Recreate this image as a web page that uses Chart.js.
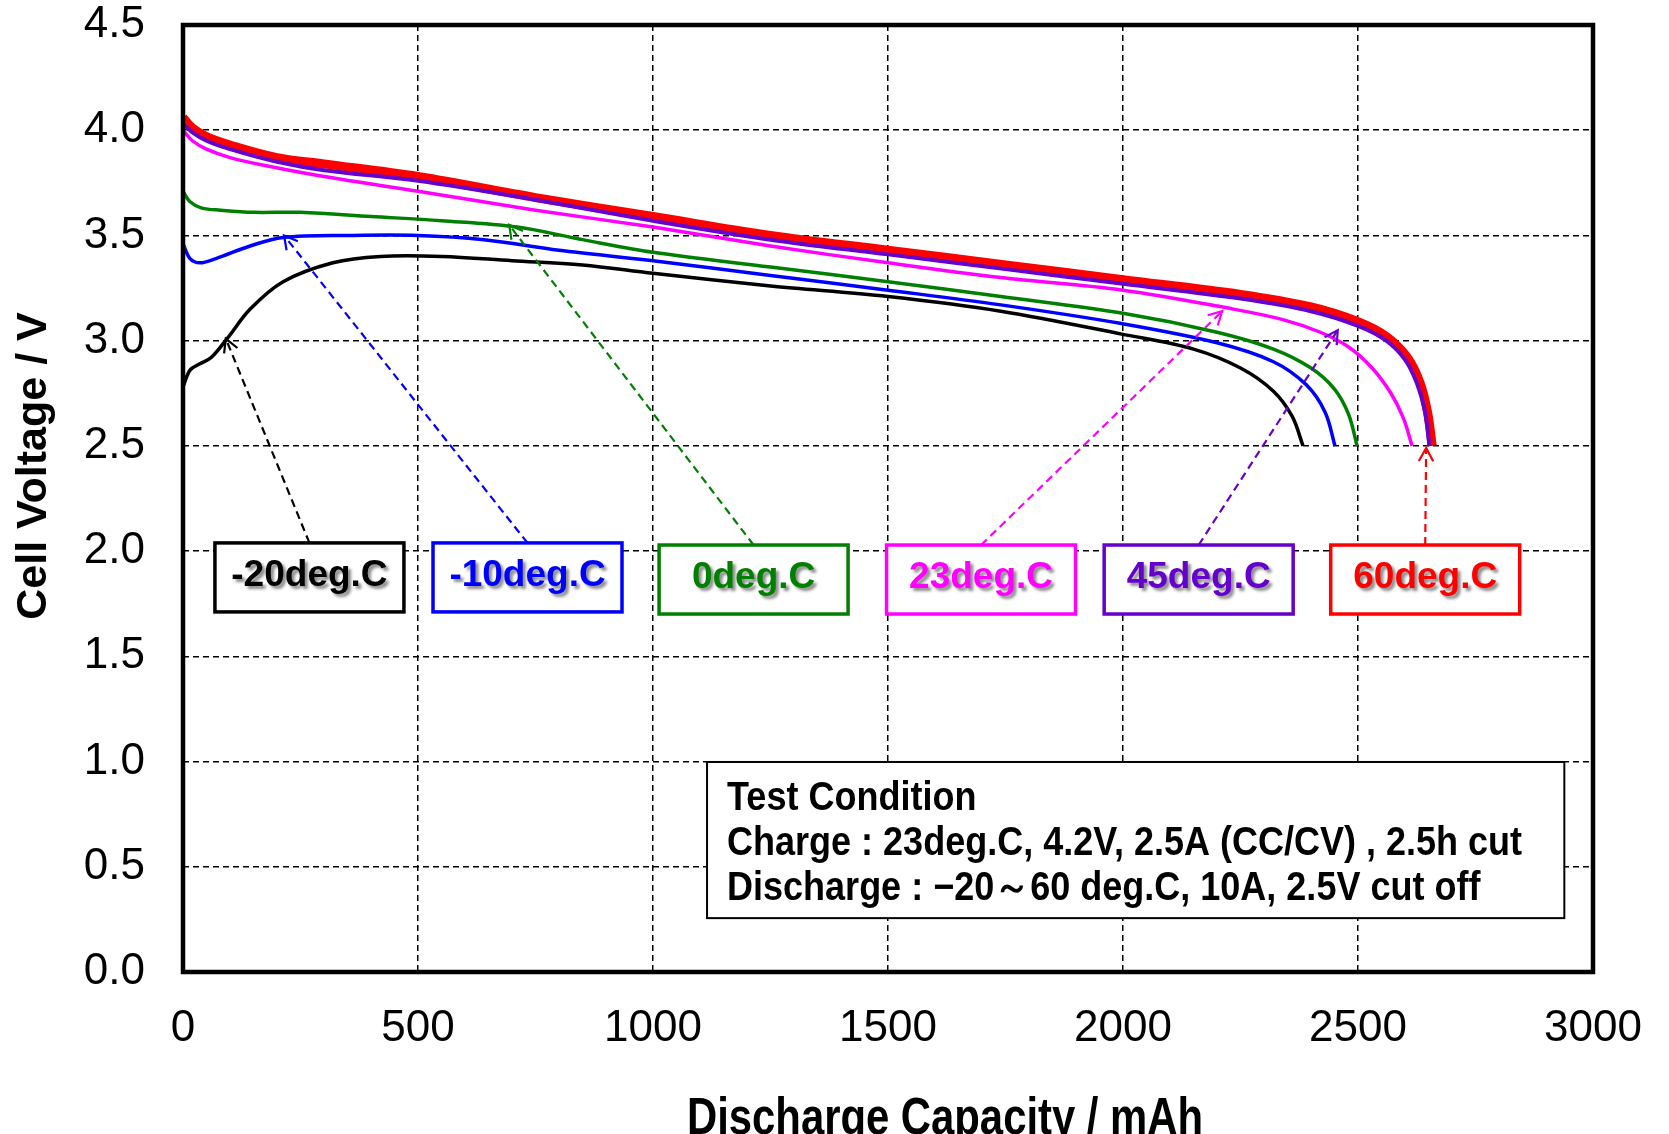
<!DOCTYPE html>
<html>
<head>
<meta charset="utf-8">
<script src="https://cdn.jsdelivr.net/npm/chart.js@4.4.1/dist/chart.umd.min.js"></script>
<style>
html,body{margin:0;padding:0;background:#fff;}
#wrap{width:1669px;height:1134px;position:relative;}
canvas{display:block;}
</style>
</head>
<body>
<div id="wrap"><canvas id="c" width="1669" height="1134"></canvas></div>
<script>
// ---------- data (capacity in mAh, voltage in V) ----------
const seriesNames = ['-20deg.C', '-10deg.C', '0deg.C', '23deg.C', '45deg.C', '60deg.C'];
const seriesColors = ['#000000', '#0000ff', '#008000', '#ff00ff', '#6600cc', '#ff0000'];

const capM20  = [0, 15, 36, 60, 94, 143, 213, 319, 420, 550, 700, 850, 1000, 1250, 1500, 1740, 2000, 2150, 2250, 2320, 2360, 2383];
const voltM20 = [2.78, 2.86, 2.89, 2.92, 3.01, 3.15, 3.28, 3.37, 3.40, 3.40, 3.38, 3.36, 3.32, 3.26, 3.21, 3.14, 3.03, 2.96, 2.87, 2.76, 2.64, 2.50];

const capM10  = [0, 15, 36, 70, 143, 213, 355, 500, 640, 800, 1000, 1250, 1500, 1740, 2000, 2200, 2320, 2390, 2430, 2451];
const voltM10 = [3.46, 3.39, 3.37, 3.39, 3.45, 3.49, 3.50, 3.50, 3.48, 3.43, 3.38, 3.31, 3.24, 3.17, 3.08, 2.99, 2.90, 2.79, 2.66, 2.50];

const cap0  = [0, 15, 40, 80, 150, 250, 400, 550, 711, 850, 1000, 1250, 1500, 1740, 2000, 2200, 2320, 2400, 2450, 2480, 2498];
const volt0 = [3.71, 3.66, 3.63, 3.62, 3.61, 3.61, 3.59, 3.57, 3.54, 3.48, 3.42, 3.35, 3.28, 3.21, 3.13, 3.04, 2.96, 2.87, 2.77, 2.65, 2.50];

const cap23  = [0, 20, 50, 100, 180, 300, 500, 750, 1000, 1250, 1500, 1740, 2000, 2235, 2340, 2420, 2480, 2530, 2570, 2597, 2615];
const volt23 = [4.00, 3.95, 3.91, 3.87, 3.83, 3.78, 3.71, 3.62, 3.54, 3.45, 3.37, 3.30, 3.24, 3.15, 3.10, 3.04, 2.97, 2.87, 2.75, 2.63, 2.50];

const cap45  = [0, 20, 50, 100, 200, 300, 500, 750, 1000, 1250, 1500, 1750, 2000, 2250, 2400, 2500, 2560, 2600, 2625, 2642, 2652];
const volt45 = [4.03, 3.99, 3.95, 3.91, 3.85, 3.81, 3.76, 3.67, 3.57, 3.48, 3.41, 3.34, 3.27, 3.20, 3.14, 3.07, 3.00, 2.91, 2.80, 2.67, 2.50];

const cap60  = [0, 20, 50, 100, 200, 300, 500, 750, 1000, 1250, 1500, 1750, 2000, 2250, 2400, 2500, 2560, 2605, 2632, 2648, 2658];
const volt60 = [4.06, 4.01, 3.97, 3.93, 3.87, 3.84, 3.78, 3.68, 3.59, 3.50, 3.43, 3.36, 3.29, 3.22, 3.16, 3.09, 3.02, 2.92, 2.80, 2.66, 2.50];

const xTicks = [0, 500, 1000, 1500, 2000, 2500, 3000];
const yTicks = [0.0, 0.5, 1.0, 1.5, 2.0, 2.5, 3.0, 3.5, 4.0, 4.5];

// label boxes (anchor in data units) and arrow targets on curves
const labelCapacity = [269, 733, 1214, 1698, 2161, 2643];
const labelVoltage  = [1.875, 1.875, 1.865, 1.865, 1.865, 1.865];
const arrowCapacity = [91, 215, 694, 2211, 2457, 2645];
const arrowVoltage  = [3.01, 3.50, 3.55, 3.14, 3.05, 2.49];

const xTitle = 'Discharge Capacity / mAh';
const yTitle = 'Cell Voltage / V';
const conditionLines = [
  'Test Condition',
  'Charge : 23deg.C, 4.2V, 2.5A (CC/CV) , 2.5h cut',
  'Discharge : \u221220\uFF5E60 deg.C, 10A, 2.5V cut off'
];
const conditionCapRange = [1115, 2939];
const conditionVoltRange = [0.256, 0.998];

// ---------- build datasets ----------
const caps = [capM20, capM10, cap0, cap23, cap45, cap60];
const volts = [voltM20, voltM10, volt0, volt23, volt45, volt60];
const widths = [3.5, 3.5, 3.5, 3.5, 4, 9];

const datasets = seriesNames.map((name, i) => ({
  label: name,
  data: caps[i].map((c, j) => ({ x: c, y: volts[i][j] })),
  borderColor: seriesColors[i],
  backgroundColor: seriesColors[i],
  borderWidth: widths[i],
  pointRadius: 0,
  showLine: true,
  fill: false,
  tension: 0.35
}));

const SANS = "'Liberation Sans', Arial, sans-serif";

// draw text compressed horizontally so that a reference string fits a given width
function drawCondensed(ctx, text, x, y, sx) {
  ctx.save();
  ctx.translate(x, y);
  ctx.scale(sx, 1);
  ctx.fillText(text, 0, 0);
  ctx.restore();
}

const framePlugin = {
  id: 'frame',
  afterDatasetsDraw(chart) {
    const { ctx, chartArea: a } = chart;
    ctx.save();
    ctx.strokeStyle = '#000';
    ctx.lineWidth = 4.5;
    ctx.strokeRect(a.left, a.top, a.right - a.left, a.bottom - a.top);
    ctx.restore();
  }
};

const titlePlugin = {
  id: 'axisTitles',
  afterDraw(chart) {
    const ctx = chart.ctx;
    ctx.save();
    ctx.fillStyle = '#000';
    ctx.textAlign = 'center';
    ctx.textBaseline = 'middle';
    ctx.font = 'bold 43px ' + SANS;
    ctx.translate(34, 466);
    ctx.rotate(-Math.PI / 2);
    ctx.fillText(yTitle, 0, 0);
    ctx.restore();

    ctx.save();
    ctx.fillStyle = '#000';
    ctx.textAlign = 'center';
    ctx.textBaseline = 'middle';
    ctx.font = 'bold 52px ' + SANS;
    const w = ctx.measureText(xTitle).width;
    drawCondensed(ctx, xTitle, 945, 1120, 516 / w);
    ctx.restore();
  }
};

const annotationPlugin = {
  id: 'labels',
  afterDatasetsDraw(chart) {
    const { ctx } = chart;
    const xs = chart.scales.x, ys = chart.scales.y;
    const bw = 189, bh = 69;
    seriesNames.forEach((name, i) => {
      const cx = xs.getPixelForValue(labelCapacity[i]);
      const cy = ys.getPixelForValue(labelVoltage[i]);
      const top = cy - bh / 2;
      const tx = xs.getPixelForValue(arrowCapacity[i]);
      const ty = ys.getPixelForValue(arrowVoltage[i]);
      const col = seriesColors[i];
      ctx.save();
      ctx.strokeStyle = col;
      ctx.lineWidth = 2.2;
      ctx.setLineDash([8, 5]);
      ctx.beginPath();
      ctx.moveTo(cx, top);
      ctx.lineTo(tx, ty);
      ctx.stroke();
      ctx.setLineDash([]);
      const ang = Math.atan2(top - ty, cx - tx);
      const L = 15, spread = 0.5;
      ctx.beginPath();
      ctx.moveTo(tx + L * Math.cos(ang - spread), ty + L * Math.sin(ang - spread));
      ctx.lineTo(tx, ty);
      ctx.lineTo(tx + L * Math.cos(ang + spread), ty + L * Math.sin(ang + spread));
      ctx.stroke();
      ctx.restore();

      ctx.save();
      ctx.fillStyle = '#fff';
      ctx.fillRect(cx - bw / 2, top, bw, bh);
      ctx.strokeStyle = col;
      ctx.lineWidth = 3.5;
      ctx.strokeRect(cx - bw / 2, top, bw, bh);
      ctx.font = 'bold 37px ' + SANS;
      ctx.textAlign = 'center';
      ctx.textBaseline = 'middle';
      ctx.shadowColor = 'rgba(0,0,0,0.45)';
      ctx.shadowOffsetX = 3;
      ctx.shadowOffsetY = 3;
      ctx.shadowBlur = 3;
      ctx.fillStyle = col;
      ctx.fillText(name, cx, cy - 2);
      ctx.restore();
    });

    const x0 = xs.getPixelForValue(conditionCapRange[0]);
    const x1 = xs.getPixelForValue(conditionCapRange[1]);
    const y0 = ys.getPixelForValue(conditionVoltRange[1]);
    const y1 = ys.getPixelForValue(conditionVoltRange[0]);
    ctx.save();
    ctx.fillStyle = '#fff';
    ctx.fillRect(x0, y0, x1 - x0, y1 - y0);
    ctx.strokeStyle = '#000';
    ctx.lineWidth = 2;
    ctx.strokeRect(x0, y0, x1 - x0, y1 - y0);
    ctx.fillStyle = '#000';
    ctx.font = 'bold 40px ' + SANS;
    ctx.textAlign = 'left';
    ctx.textBaseline = 'middle';
    const sx = 795 / ctx.measureText(conditionLines[1]).width;
    conditionLines.forEach((t, k) => drawCondensed(ctx, t, x0 + 20, y0 + 37 + k * 45, sx));
    ctx.restore();
  }
};

new Chart(document.getElementById('c'), {
  type: 'scatter',
  data: { datasets },
  options: {
    responsive: false,
    animation: false,
    devicePixelRatio: 1,
    layout: { padding: { left: 0, top: 25, right: 76, bottom: 0 } },
    plugins: { legend: { display: false }, tooltip: { enabled: false } },
    scales: {
      x: {
        type: 'linear',
        min: 0, max: 3000,
        afterBuildTicks: (s) => { s.ticks = xTicks.map(v => ({ value: v })); },
        afterFit: (s) => { s.height = 162; s.paddingLeft = 0; s.paddingRight = 0; },
        ticks: { color: '#000', font: { family: SANS, size: 44 }, padding: 30, maxRotation: 0, callback: (v) => String(v) },
        grid: { color: '#000', lineWidth: 1.5, drawTicks: false },
        border: { display: false, dash: [6, 4] }
      },
      y: {
        type: 'linear',
        min: 0, max: 4.5,
        afterBuildTicks: (s) => { s.ticks = yTicks.map(v => ({ value: v })); },
        afterFit: (s) => { s.width = 183; s.paddingTop = 0; s.paddingBottom = 0; },
        ticks: { color: '#000', font: { family: SANS, size: 44 }, padding: 38, callback: (v) => Number(v).toFixed(1) },
        grid: { color: '#000', lineWidth: 1.5, drawTicks: false },
        border: { display: false, dash: [6, 4] }
      }
    }
  },
  plugins: [framePlugin, annotationPlugin, titlePlugin]
});
</script>
</body>
</html>
